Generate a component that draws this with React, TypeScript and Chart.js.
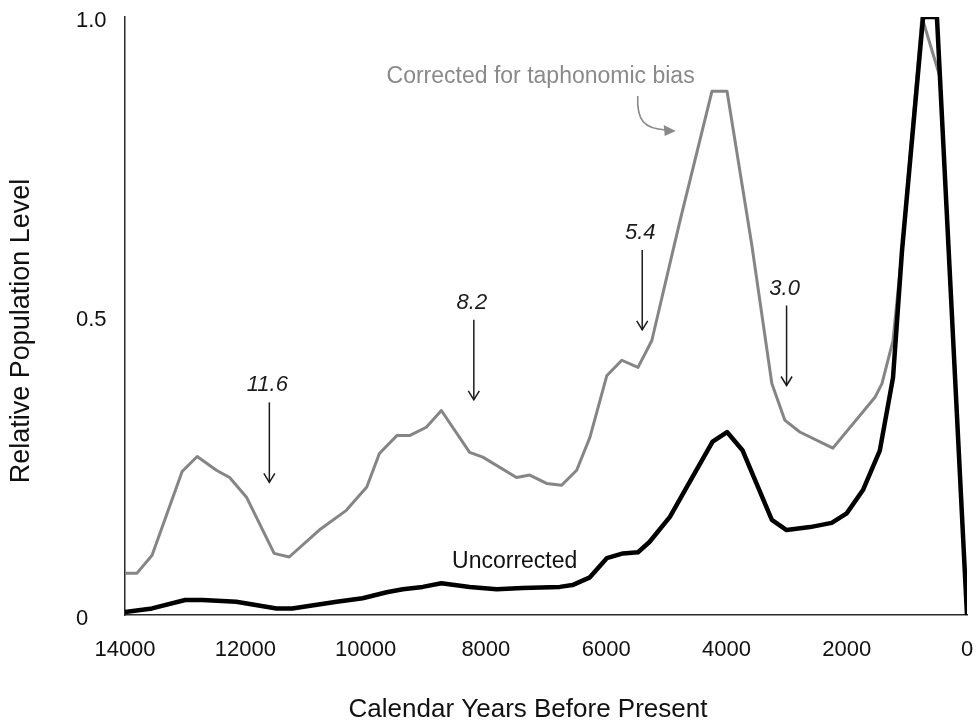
import React, { useEffect, useRef } from 'react';
import { Chart, registerables } from 'chart.js';

Chart.register(...registerables);

// Relative population level, corrected for taphonomic bias (years BP)
const correctedYears = [
  14000, 13800, 13550, 13050, 12800, 12480, 12260, 11980, 11520, 11270,
  10770, 10320, 9980, 9770, 9480, 9270, 8990, 8740, 8270, 8050,
  7490, 7270, 6990, 6740, 6490, 6270, 5990, 5740, 5470, 5240,
  4890, 4770, 4240, 3990, 3580, 3245, 3030, 2780, 2230, 1530,
  1414, 1230, 1080, 750, 450, 0,
];
const correctedLevel = [
  0.07, 0.07, 0.1, 0.24, 0.265, 0.242, 0.23, 0.197, 0.103, 0.097,
  0.142, 0.175, 0.214, 0.27, 0.3, 0.3, 0.314, 0.342, 0.272, 0.264,
  0.23, 0.234, 0.22, 0.217, 0.242, 0.297, 0.4, 0.426, 0.414, 0.459,
  0.609, 0.66, 0.876, 0.876, 0.62, 0.387, 0.326, 0.306, 0.279, 0.364,
  0.387, 0.459, 0.609, 1.0, 0.9, 0,
];

// Uncorrected relative population level (years BP)
const uncorrectedYears = [
  14000, 13550, 13000, 12710, 12150, 11480, 11220, 10480, 10050, 9650,
  9380, 9050, 8740, 8270, 7820, 7390, 6770, 6560, 6270, 5990,
  5720, 5470, 5280, 4940, 4660, 4230, 3990, 3730, 3245, 3000,
  2610, 2250, 2000, 1730, 1450, 1230, 1080, 730, 500, 0,
];
const uncorrectedLevel = [
  0.005, 0.011, 0.025, 0.025, 0.022, 0.011, 0.011, 0.022, 0.028, 0.038,
  0.043, 0.047, 0.053, 0.047, 0.043, 0.045, 0.047, 0.05, 0.063, 0.095,
  0.103, 0.105, 0.122, 0.164, 0.214, 0.29, 0.306, 0.275, 0.159, 0.142,
  0.147, 0.154, 0.17, 0.209, 0.275, 0.397, 0.61, 1.0, 1.0, 0,
];

// Axis ticks
const xTickValues = [14000, 12000, 10000, 8000, 6000, 4000, 2000, 0];
const yTickValues = [0, 0.5, 1.0];
const yTickLabels = ['0', '0.5', '1.0'];

// Climate events (thousand years BP) marked with arrows
const eventYears = [11600, 8200, 5400, 3000];
const eventLabels = ['11.6', '8.2', '5.4', '3.0'];

const FONT = "'Liberation Sans', Arial, Helvetica, sans-serif";

// Where the event labels sit, on the level axis
const eventLabelLevels = [0.384, 0.522, 0.639, 0.546];

const toPoints = (xs: number[], ys: number[]) => xs.map((x, i) => ({ x, y: ys[i] }));

const annotations = {
  id: 'annotations',
  afterDatasetsDraw(chart: any) {
    const { ctx, scales, chartArea } = chart;
    const xs = scales.x;
    const ys = scales.y;
    ctx.save();

    // event arrows
    eventYears.forEach((yr, i) => {
      const px = xs.getPixelForValue(yr);
      const ty = ys.getPixelForValue(eventLabelLevels[i]);
      ctx.font = `italic 22px ${FONT}`;
      ctx.fillStyle = '#1c1c1c';
      ctx.textAlign = 'center';
      ctx.textBaseline = 'middle';
      ctx.fillText(eventLabels[i], px - 2, ty);
      const top = ty + 17;
      const tip = top + 80;
      ctx.strokeStyle = '#1c1c1c';
      ctx.lineWidth = 1.5;
      ctx.beginPath();
      ctx.moveTo(px, top);
      ctx.lineTo(px, tip);
      ctx.stroke();
      ctx.beginPath();
      ctx.moveTo(px - 5.5, tip - 9);
      ctx.lineTo(px, tip);
      ctx.lineTo(px + 5.5, tip - 9);
      ctx.stroke();
    });

    // series labels
    ctx.font = `23px ${FONT}`;
    ctx.textBaseline = 'middle';
    ctx.textAlign = 'left';
    ctx.fillStyle = '#8a8a8a';
    ctx.fillText('Corrected for taphonomic bias', xs.getPixelForValue(9651), ys.getPixelForValue(0.9));
    ctx.textAlign = 'center';
    ctx.fillStyle = '#111';
    ctx.fillText('Uncorrected', xs.getPixelForValue(7521), ys.getPixelForValue(0.0885));

    // curved pointer from the corrected label to its line
    const ax = xs.getPixelForValue(5475);
    const ay = ys.getPixelForValue(0.868);
    ctx.strokeStyle = '#8a8a8a';
    ctx.fillStyle = '#8a8a8a';
    ctx.lineWidth = 1.6;
    ctx.beginPath();
    ctx.moveTo(ax, ay);
    ctx.bezierCurveTo(ax - 1, ay + 24, ax + 6, ay + 33, ax + 28, ay + 34);
    ctx.stroke();
    ctx.beginPath();
    ctx.moveTo(ax + 38, ay + 35);
    ctx.lineTo(ax + 26, ay + 29);
    ctx.lineTo(ax + 27, ay + 40);
    ctx.closePath();
    ctx.fill();

    // axis titles
    ctx.fillStyle = '#111';
    ctx.font = `26px ${FONT}`;
    ctx.textAlign = 'center';
    ctx.textBaseline = 'alphabetic';
    ctx.fillText('Calendar Years Before Present', (chartArea.left + chartArea.right) / 2 - 18, chartArea.bottom + 102);
    ctx.translate(22, (chartArea.top + chartArea.bottom) / 2 + 15);
    ctx.rotate(-Math.PI / 2);
    ctx.font = `27px ${FONT}`;
    ctx.textBaseline = 'middle';
    ctx.fillText('Relative Population Level', 0, 0);
    ctx.restore();
  },
};

export default function App() {
  const canvasRef = useRef<HTMLCanvasElement | null>(null);

  useEffect(() => {
    const canvas = canvasRef.current;
    if (!canvas) return;
    Chart.defaults.font.family = FONT;
    const chart = new Chart(canvas, {
      type: 'line',
      data: {
        datasets: [
          {
            label: 'Uncorrected',
            data: toPoints(uncorrectedYears, uncorrectedLevel),
            borderColor: '#000',
            borderWidth: 4.5,
            pointRadius: 0,
            tension: 0,
            borderJoinStyle: 'round',
            borderCapStyle: 'round',
          },
          {
            label: 'Corrected for taphonomic bias',
            data: toPoints(correctedYears, correctedLevel),
            borderColor: '#858585',
            borderWidth: 3,
            pointRadius: 0,
            tension: 0,
            borderJoinStyle: 'round',
            borderCapStyle: 'round',
          },
        ],
      },
      options: {
        animation: false,
        responsive: false,
        devicePixelRatio: 1,
        layout: { padding: { left: 76, right: 13, top: 17, bottom: 0 } },
        plugins: {
          legend: { display: false },
          tooltip: { enabled: false },
        },
        scales: {
          x: {
            type: 'linear',
            reverse: true,
            min: 0,
            max: 14000,
            afterFit: (scale: any) => {
              scale.height = 106;
              scale.paddingLeft = 0;
              scale.paddingRight = 0;
            },
            afterBuildTicks: (scale: any) => {
              scale.ticks = xTickValues.map((value) => ({ value }));
            },
            grid: { display: false, drawTicks: false },
            border: { display: true, color: '#2a2a2a', width: 1.5 },
            ticks: {
              color: '#111',
              font: { size: 22, family: FONT },
              padding: 22,
              maxRotation: 0,
              autoSkip: false,
              callback: (v: any) => String(v),
            },
          },
          y: {
            type: 'linear',
            min: 0,
            max: 1,
            afterFit: (scale: any) => {
              scale.width = 49;
              scale.paddingTop = 0;
              scale.paddingBottom = 0;
            },
            afterBuildTicks: (scale: any) => {
              scale.ticks = yTickValues.map((value) => ({ value }));
            },
            grid: { display: false, drawTicks: false },
            border: { display: true, color: '#2a2a2a', width: 1.5 },
            ticks: {
              color: '#111',
              font: { size: 22, family: FONT },
              padding: 18,
              labelOffset: 4,
              crossAlign: 'far',
              callback: (v: any) => {
                const i = yTickValues.indexOf(Number(v));
                return i >= 0 ? yTickLabels[i] : '';
              },
            },
          },
        },
      },
      plugins: [annotations],
    } as any);
    return () => chart.destroy();
  }, []);

  return (
    <div style={{ position: 'absolute', left: 0, top: 0, width: 980, height: 721, background: '#fff' }}>
      <canvas ref={canvasRef} width={980} height={721} />
    </div>
  );
}
